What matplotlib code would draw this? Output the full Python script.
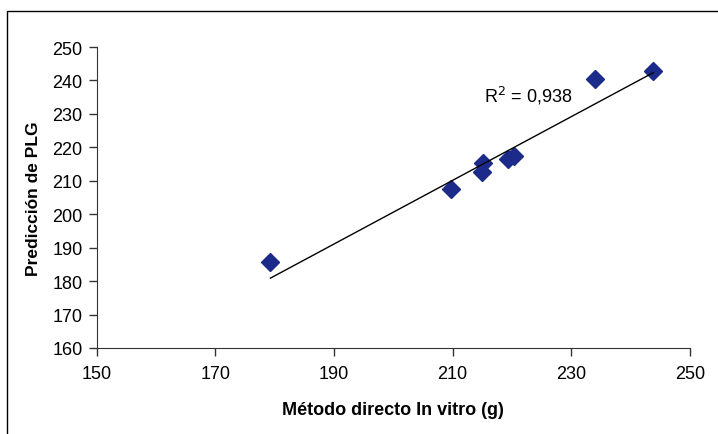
import numpy as np
import matplotlib.pyplot as plt
from matplotlib.patches import Rectangle

plt.rcParams['font.family'] = ['Liberation Sans', 'DejaVu Sans']

# data
metodo_directo = [179.3, 209.7, 215.2, 215.0, 219.4, 220.4, 234.0, 243.8]
prediccion_plg = [185.8, 207.4, 215.3, 212.6, 216.6, 217.5, 240.3, 242.8]
# trendline as drawn in the picture (slope, intercept)
trend_slope = 0.9525
trend_intercept = 10.1
r2_text = "R$^2$ = 0,938"
xticks = [150, 170, 190, 210, 230, 250]
yticks = [160, 170, 180, 190, 200, 210, 220, 230, 240, 250]

fig = plt.figure(figsize=(7.18, 4.35), dpi=100)
ax = fig.add_axes([96.5 / 718, 1 - 349 / 435, (690 - 96.5) / 718, (349 - 48) / 435])

# frame around the figure (only left and top visible)
fig.patches.append(Rectangle((7 / 718, -0.1), 1.2, 1 - 12 / 435 + 0.1,
                             transform=fig.transFigure, fill=False,
                             edgecolor='black', linewidth=1.0))

ax.plot(metodo_directo, prediccion_plg, linestyle='none', marker='D',
        markersize=9, color='#1c2b8a')

xs = np.array([min(metodo_directo), max(metodo_directo)])
ax.plot(xs, trend_slope * xs + trend_intercept, color='black', linewidth=1.0)

ax.text(215.3, 235.8, r2_text, fontsize=13, ha='left', va='center')

ax.set_xlim(150, 250)
ax.set_ylim(160, 250)
ax.set_xticks(xticks)
ax.set_yticks(yticks)
ax.tick_params(direction='out', length=6, width=1, labelsize=13)
ax.tick_params(axis='x', pad=6)
ax.tick_params(axis='y', pad=4)
for s in ['left', 'bottom']:
    ax.spines[s].set_color('#333333')
ax.tick_params(color='#333333')
ax.spines['top'].set_visible(False)
ax.spines['right'].set_visible(False)

ax.set_xlabel("Método directo In vitro (g)", fontsize=13, fontweight='bold', labelpad=14)
ax.set_ylabel("Predicción de PLG", fontsize=12.5, fontweight='bold', labelpad=8)

fig.savefig('out.png', dpi=100)
